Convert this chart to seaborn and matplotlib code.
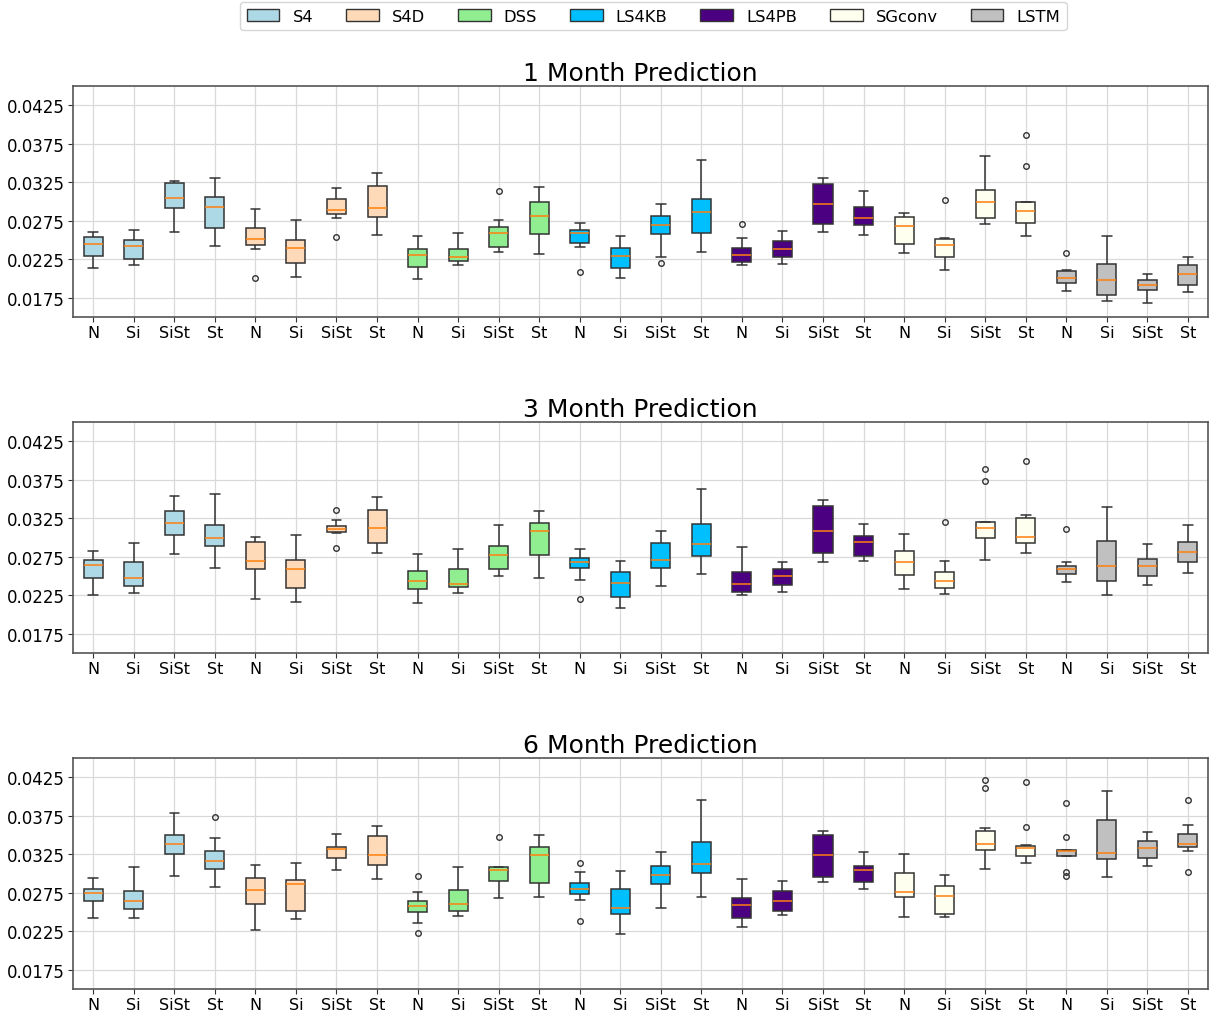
import matplotlib
matplotlib.use("Agg")
import matplotlib.pyplot as plt
from matplotlib.patches import Patch
import numpy as np
import pandas as pd
import seaborn as sns

MODELS = ["S4", "S4D", "DSS", "LS4KB", "LS4PB", "SGconv", "LSTM"]
VARIANTS = ["N", "Si", "SiSt", "St"]
COLORS = ["#ADD8E6", "#FFDAB9", "#90EE90", "#00BFFF", "#4B0082", "#FFFFF0", "#C0C0C0"]
TITLES = ["1 Month Prediction", "3 Month Prediction", "6 Month Prediction"]
YTICKS = [0.0175, 0.0225, 0.0275, 0.0325, 0.0375, 0.0425]

# Per-box summary of the test errors, in MODELS x VARIANTS order
# (low whisker, lower quartile, median, upper quartile, high whisker, outliers)
LO_1 = [.02134, .02177, .02612, .02427, .02384, .02022, .02784, .02565, .02000, .02177, .02345, .02315, .02409, .02009,
        .02280, .02353, .02181, .02185, .02612, .02573, .02332, .02108, .02707, .02556, .01841, .01707, .01685, .01828]
Q1_1 = [.02293, .02259, .02918, .02664, .02435, .02207, .02845, .02797, .02151, .02228, .02418, .02586, .02470, .02134,
        .02586, .02590, .02215, .02284, .02715, .02698, .02448, .02280, .02789, .02724, .01944, .01793, .01853, .01918]
MED_1 = [.02448, .02422, .03047, .02927, .02521, .02401, .02888, .02922, .02306, .02280, .02595, .02810, .02590, .02297,
         .02703, .02862, .02306, .02384, .02965, .02784, .02681, .02435, .02991, .02884, .02013, .01987, .01918, .02060]
Q3_1 = [.02539, .02500, .03237, .03056, .02655, .02500, .03030, .03198, .02384, .02388, .02668, .02991, .02634, .02405,
        .02810, .03030, .02401, .02487, .03233, .02927, .02797, .02513, .03155, .02991, .02095, .02185, .01983, .02177]
HI_1 = [.02603, .02629, .03271, .03302, .02905, .02767, .03172, .03371, .02556, .02595, .02767, .03194, .02720, .02556,
        .02974, .03534, .02526, .02625, .03306, .03134, .02853, .02534, .03586, .03000, .02108, .02556, .02056, .02280]
FLIERS_1 = {4: [.02013], 6: [.0254], 10: [.03138], 12: [.02086], 14: [.02198], 16: [.02707],
            21: [.03026], 23: [.03457, .03862], 24: [.0234]}

LO_3 = [.02259, .02280, .02784, .02608, .02207, .02168, .03056, .02797, .02155, .02280, .02496, .02474, .02448, .02086,
        .02371, .02521, .02254, .02293, .02677, .02698, .02336, .02263, .02715, .02797, .02422, .02254, .02384, .02534]
Q1_3 = [.02478, .02366, .03030, .02884, .02590, .02345, .03069, .02935, .02332, .02358, .02590, .02776, .02599, .02228,
        .02608, .02759, .02297, .02379, .02793, .02754, .02517, .02345, .02996, .02927, .02526, .02435, .02496, .02677]
MED_3 = [.02646, .02474, .03185, .02996, .02694, .02590, .03108, .03121, .02440, .02397, .02771, .03086, .02678, .02409,
         .02707, .02922, .02397, .02496, .03082, .02940, .02677, .02431, .03125, .03013, .02586, .02634, .02634, .02815]
Q3_3 = [.02703, .02681, .03345, .03159, .02948, .02707, .03146, .03353, .02569, .02590, .02884, .03190, .02730, .02547,
        .02927, .03177, .02547, .02586, .03414, .03017, .02828, .02547, .03198, .03250, .02629, .02961, .02720, .02948]
HI_3 = [.02819, .02935, .03534, .03565, .03013, .03039, .03233, .03526, .02784, .02849, .03157, .03345, .02849, .02698,
        .03082, .03633, .02871, .02681, .03491, .03177, .03047, .02690, .03207, .03289, .02677, .03392, .02914, .03164]
FLIERS_3 = {6: [.02866, .03353], 12: [.02207], 21: [.03198], 22: [.03737, .03883], 23: [.03996], 24: [.03116]}

LO_6 = [.02418, .02427, .02970, .02819, .02267, .02414, .03039, .02931, .02362, .02448, .02678, .02690, .02659, .02215,
        .02547, .02698, .02306, .02465, .02884, .02793, .02431, .02431, .03060, .03129, .03228, .02948, .03095, .03293]
Q1_6 = [.02646, .02543, .03254, .03052, .02603, .02517, .03198, .03112, .02500, .02517, .02905, .02875, .02733, .02470,
        .02858, .03004, .02427, .02509, .02948, .02892, .02690, .02478, .03310, .03220, .03228, .03190, .03198, .03349]
MED_6 = [.02746, .02646, .03388, .03159, .02789, .02858, .03323, .03233, .02578, .02608, .03039, .03241, .02802, .02547,
         .02983, .03116, .02586, .02646, .03241, .03043, .02754, .02707, .03388, .03332, .03289, .03263, .03327, .03379]
Q3_6 = [.02802, .02767, .03500, .03289, .02944, .02909, .03345, .03487, .02646, .02789, .03086, .03345, .02879, .02797,
        .03090, .03405, .02678, .02776, .03496, .03095, .03009, .02836, .03552, .03362, .03306, .03698, .03427, .03517]
HI_6 = [.02944, .03077, .03784, .03457, .03112, .03134, .03517, .03616, .02763, .03086, .03086, .03496, .03017, .03034,
        .03276, .03952, .02927, .02905, .03556, .03276, .03254, .02978, .03590, .03375, .03306, .04064, .03539, .03629]
FLIERS_6 = {3: [.03728], 8: [.02233, .02970], 10: [.03478], 12: [.02388, .0313], 22: [.04108, .04215],
            23: [.03608, .04185], 24: [.02963, .03019, .03478, .03918], 27: [.03019, .03948]}

PANELS = [
    (LO_1, Q1_1, MED_1, Q3_1, HI_1, FLIERS_1),
    (LO_3, Q1_3, MED_3, Q3_3, HI_3, FLIERS_3),
    (LO_6, Q1_6, MED_6, Q3_6, HI_6, FLIERS_6),
]


def runs(lo, q1, med, q3, hi, outliers):
    """Thirteen run errors whose quartiles, whiskers and outliers are the given ones."""
    low_out = sorted(v for v in outliers if v < q1)
    high_out = sorted(v for v in outliers if v > q3)
    lows = low_out + [lo] * (3 - len(low_out))
    highs = [hi] * (3 - len(high_out)) + high_out
    return lows + [q1, q1, q1, med, q3, q3, q3] + highs


slots = [f"{m} {v}" for m in MODELS for v in VARIANTS]
palette = dict(zip(MODELS, COLORS))

sns.set_style("ticks", {"axes.grid": True, "grid.color": "#d9d9d9", "axes.edgecolor": "#555555",
                        "xtick.color": "#333333", "ytick.color": "#333333", "text.color": "black",
                        "axes.labelcolor": "black"})
plt.rcParams["font.family"] = ["DejaVu Sans"]
plt.rcParams["axes.linewidth"] = 1.2
plt.rcParams["xtick.labelcolor"] = "black"
plt.rcParams["ytick.labelcolor"] = "black"
plt.rcParams["xtick.major.size"] = 3.5
plt.rcParams["ytick.major.size"] = 3.5
plt.rcParams["xtick.major.pad"] = 2.0
plt.rcParams["ytick.major.pad"] = 2.5

fig, axes = plt.subplots(3, 1, figsize=(12.1, 10.12), dpi=100)
fig.subplots_adjust(left=0.0603, right=0.9985, top=0.914, bottom=0.0217, hspace=0.4525)

for ax, title, (lo, q1, med, q3, hi, fl) in zip(axes, TITLES, PANELS):
    rows = []
    for i, slot in enumerate(slots):
        model = MODELS[i // 4]
        for v in runs(lo[i], q1[i], med[i], q3[i], hi[i], fl.get(i, [])):
            rows.append((slot, model, v))
    df = pd.DataFrame(rows, columns=["slot", "model", "error"])
    sns.boxplot(data=df, x="slot", y="error", hue="model", order=slots, hue_order=MODELS,
                palette=palette, dodge=False, saturation=1, width=0.47, linewidth=1.1,
                linecolor="#333333", fliersize=4, legend=False, ax=ax,
                medianprops=dict(color="#ff7f0e", linewidth=1.1),
                flierprops=dict(marker="o", markerfacecolor="none", markeredgecolor="#333333",
                                markeredgewidth=1.0))
    ax.set_xlim(-0.5, len(slots) - 0.5)
    ax.set_ylim(0.015, 0.045)
    ax.set_yticks(YTICKS)
    ax.set_yticklabels([f"{t:.4f}" for t in YTICKS], fontsize=12)
    ax.set_xticks(range(len(slots)))
    ax.set_xticklabels([VARIANTS[i % 4] for i in range(len(slots))], fontsize=11.5)
    ax.set_xlabel("")
    ax.set_ylabel("")
    ax.set_title(title, fontsize=18, pad=4, color="black")
    ax.grid(True, color="#d9d9d9", linewidth=0.9)
    for s in ax.spines.values():
        s.set_visible(True)
        s.set_color("#555555")

handles = [Patch(facecolor=c, edgecolor="#333333", linewidth=1.0) for c in COLORS]
fig.legend(handles, MODELS, loc="upper center", bbox_to_anchor=(0.54, 1.005), ncol=7,
           fontsize=11.8, frameon=True, fancybox=True)

fig.savefig("out.png", dpi=100)
